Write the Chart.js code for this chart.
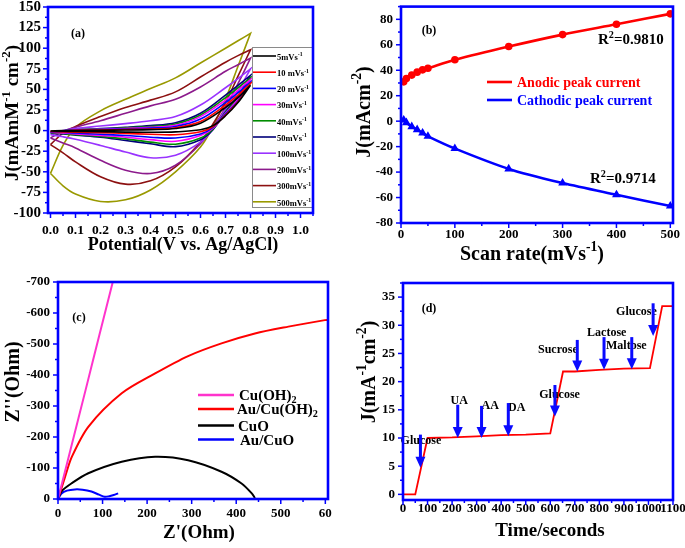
<!DOCTYPE html>
<html>
<head>
<meta charset="utf-8">
<script src="https://cdn.jsdelivr.net/npm/chart.js@4.4.1/dist/chart.umd.min.js"></script>
<style>
  html, body { margin: 0; padding: 0; background: #fff; }
  body { width: 685px; height: 548px; position: relative; overflow: hidden; }
  canvas { position: absolute; }
</style>
</head>
<body>
<canvas id="chartA" width="340" height="270" style="left:0;top:0"></canvas>
<canvas id="chartB" width="345" height="270" style="left:340px;top:0"></canvas>
<canvas id="chartC" width="340" height="278" style="left:0;top:270px"></canvas>
<canvas id="chartD" width="380" height="278" style="left:340px;top:270px"></canvas>
<script>
// ---------- (a) cyclic voltammograms at different scan rates ----------
const scanRateLabels = ['5mVs^{-1}', '10 mVs^{-1}', '20 mVs^{-1}', '30mVs^{-1}', '40mVs^{-1}',
  '50mVs^{-1}', '100mVs^{-1}', '200mVs^{-1}', '300mVs^{-1}', '500mVs^{-1}'];
const cvColors = ['#000000', '#ff0000', '#0000ff', '#ff00ff', '#008c00',
  '#00007a', '#9933ff', '#8c1a8c', '#8c1010', '#999900'];
const fwdPotential = [0, 0.05, 0.1, 0.2, 0.3, 0.4, 0.5, 0.6, 0.7, 0.75, 0.8];
const revPotential = [0.8, 0.75, 0.7, 0.65, 0.6, 0.5, 0.4, 0.3, 0.2, 0.1, 0.05, 0];
const cvAnodic = [
  [-0.5, 0, 0.2, 0.4, 0.7, 1.2, 2.5, 9, 28, 40, 55],
  [-1, -0.3, 0.3, 0.8, 1.3, 2, 3.5, 11, 31, 43, 57],
  [-1.5, -0.3, 0.5, 1.2, 2, 3, 5, 14, 34, 46, 59],
  [-2, -0.5, 0.7, 1.6, 2.6, 4, 6.5, 17, 37, 49, 62],
  [-2.5, -0.5, 0.9, 2, 3.3, 5, 8, 19, 40, 52, 64],
  [-3, -0.5, 1, 2.5, 4, 6, 9.5, 21, 43, 55, 67],
  [-5, 0, 2.5, 5.5, 8.5, 12, 17, 31, 52, 63, 75],
  [-9, -1, 4, 12, 21, 30, 38, 53, 72, 80, 88],
  [-17, -3, 5, 17, 28, 37, 47, 65, 83, 91, 98],
  [-52, -18, 4, 24, 38, 51, 64, 82, 100, 109, 118]
];
const cvCathodic = [
  [55, 34, 18, 6, 1, -1.5, -2, -1.8, -1.3, -1, -0.8, -0.5],
  [57, 35, 19, 5, -1.5, -5, -4.5, -3.5, -2.5, -2, -1.5, -1],
  [59, 36, 20, 4, -4, -9, -8, -6, -4.5, -3, -2, -1.5],
  [62, 38, 21, 3, -6, -13, -11, -8, -6, -4, -3, -2],
  [64, 40, 22, 2, -9, -16.5, -14, -10, -7, -5, -3.5, -2.5],
  [67, 42, 23, 1, -11, -19.5, -16, -12, -8, -5.5, -4, -3],
  [75, 48, 26, 2, -14, -30, -33, -26, -18, -10.5, -7.5, -5],
  [88, 57, 28, 4, -16, -42, -52, -48, -36, -21, -15, -9],
  [98, 66, 34, 8, -14, -44, -61, -65, -56, -38, -27, -17],
  [118, 78, 38, 5, -20, -50, -72, -84, -86, -77, -67, -52]
];
const cvPotentialTicks = [0, 0.1, 0.2, 0.3, 0.4, 0.5, 0.6, 0.7, 0.8, 0.9, 1.0];
const cvCurrentTicks = [-100, -75, -50, -25, 0, 25, 50, 75, 100, 125, 150];

// ---------- (b) peak current vs scan rate ----------
const scanRates = [5, 10, 20, 30, 40, 50, 100, 200, 300, 400, 500];
const anodicPeak = [30.9, 33.5, 36.2, 38.5, 40.3, 41.6, 48.2, 58.6, 68, 76.1, 84.3];
const cathodicPeak = [0.9, -1.2, -4.3, -6.7, -9.3, -11.9, -21.5, -37.5, -48.6, -57.8, -66.7];
const scanRateTicks = [0, 100, 200, 300, 400, 500];
const peakTicks = [-80, -60, -40, -20, 0, 20, 40, 60, 80];

// ---------- (c) Nyquist plots ----------
const cuOH2Re = [0, 30, 62, 93, 124];
const cuOH2Im = [0, -170, -352, -530, -706];
const auCuOH2Re = [0, 16, 31, 68, 143, 218, 292, 367, 442, 517, 599, 606];
const auCuOH2Im = [0, -72, -136, -233, -341, -405, -461, -502, -534, -556, -577, -578];
const cuoRe = [0, 8, 31, 68, 143, 218, 292, 367, 412, 435, 442];
const cuoIm = [0, -25, -51, -83, -120, -136, -125, -88, -50, -18, -3];
const auCuoRe = [0, 8, 20, 38, 55, 75, 92, 105, 115, 125, 135];
const auCuoIm = [0, -18, -27, -31, -30, -24, -14, -7, -9, -13, -18];
const zRealTicks = [0, 100, 200, 300, 400, 500, 600];
const zRealTickLabels = ['0', '100', '200', '300', '400', '500', '60'];
const zImagTicks = [-700, -600, -500, -400, -300, -200, -100, 0];

// ---------- (d) amperometric response ----------
const timeSec = [0, 50, 100, 200, 300, 400, 500, 600, 652, 700, 800, 900, 1006, 1056, 1100];
const currentJ = [0, 0, 10, 10.1, 10.3, 10.5, 10.6, 10.8, 21.8, 21.8, 22.1, 22.3, 22.4, 33.4, 33.4];
const analytes = ['Glucose', 'UA', 'AA', 'DA', 'Glucose', 'Sucrose', 'Lactose', 'Maltose', 'Glucose'];
const addTime = [71, 223, 320, 429, 619, 710, 819, 932, 1019];
const arrowFrom = [10.6, 15.9, 15.7, 16.2, 19.4, 27.4, 27.9, 27.9, 33.9];
const arrowTo = [4.7, 10.0, 10.0, 10.3, 13.8, 21.8, 22.1, 22.2, 28.1];
const labelTime = [73, 229, 355, 463, 638, 631, 830, 910, 951];
const labelJ = [9.6, 16.8, 15.9, 15.6, 17.9, 25.8, 28.8, 26.6, 32.6];
const timeTicks = [0, 100, 200, 300, 400, 500, 600, 700, 800, 900, 1000, 1100];
const jTicks = [0, 5, 10, 15, 20, 25, 30, 35];

const SERIF = '"Liberation Serif", "DejaVu Serif", serif';
const FRAME_BLUE = '#0000ff';

// text with ^{sup} and _{sub} markup
function parseRich(str) {
  const parts = [];
  const re = /([\^_])\{([^}]*)\}/g;
  let last = 0, m;
  while ((m = re.exec(str))) {
    if (m.index > last) parts.push([str.slice(last, m.index), '']);
    parts.push([m[2], m[1]]);
    last = re.lastIndex;
  }
  if (last < str.length) parts.push([str.slice(last), '']);
  return parts;
}

function drawRich(ctx, t) {
  const size = t.size;
  const weight = t.weight || 'bold';
  const parts = parseRich(t.text);
  const fontOf = p => `${weight} ${p[1] ? size * 0.68 : size}px ${SERIF}`;
  ctx.save();
  ctx.translate(t.x, t.y);
  if (t.rotate) ctx.rotate(t.rotate);
  ctx.fillStyle = t.color || '#000';
  ctx.textBaseline = 'alphabetic';
  let w = 0;
  parts.forEach(p => { ctx.font = fontOf(p); w += ctx.measureText(p[0]).width; });
  let x = t.align === 'left' ? 0 : -w / 2;
  const base = size * 0.34;
  parts.forEach(p => {
    ctx.font = fontOf(p);
    const dy = p[1] === '^' ? -size * 0.42 : p[1] === '_' ? size * 0.22 : 0;
    ctx.fillText(p[0], x, base + dy);
    x += ctx.measureText(p[0]).width;
  });
  ctx.restore();
}

function drawAxisTicks(ctx, scale, minorStep, area) {
  const majors = scale.ticks.map(t => t.value);
  const lo = Math.min(scale.min, scale.max), hi = Math.max(scale.min, scale.max);
  const start = Math.ceil(lo / minorStep - 1e-9) * minorStep;
  for (let v = start; v <= hi + 1e-9; v += minorStep) {
    const isMajor = majors.some(mj => Math.abs(mj - v) < minorStep * 0.01);
    const len = isMajor ? 5 : 3;
    const p = scale.getPixelForValue(v);
    ctx.beginPath();
    if (scale.isHorizontal()) { ctx.moveTo(p, area.bottom); ctx.lineTo(p, area.bottom + len); }
    else { ctx.moveTo(area.left, p); ctx.lineTo(area.left - len, p); }
    ctx.stroke();
  }
}

// frame, outward ticks, texts and extra drawing for one panel
function decor(spec) {
  return {
    id: 'decor',
    afterDatasetsDraw(chart) {
      const ctx = chart.ctx, a = chart.chartArea;
      if (spec.extra) spec.extra(chart, ctx);
      ctx.save();
      ctx.strokeStyle = FRAME_BLUE;
      ctx.lineWidth = 1.5;
      drawAxisTicks(ctx, chart.scales.x, spec.xMinor, a);
      drawAxisTicks(ctx, chart.scales.y, spec.yMinor, a);
      ctx.lineWidth = 2.6;
      ctx.strokeRect(a.left, a.top, a.right - a.left, a.bottom - a.top);
      ctx.restore();
      spec.texts.forEach(t => drawRich(ctx, t));
    }
  };
}

function axis(o) {
  return {
    type: 'linear', min: o.min, max: o.max, reverse: !!o.reverse,
    grid: { display: false, drawTicks: false }, border: { display: false },
    afterBuildTicks: s => { s.ticks = o.ticks.map(v => ({ value: v })); },
    ticks: {
      autoSkip: false, maxRotation: 0, minRotation: 0,
      padding: o.pad, color: '#000', font: { family: SERIF, weight: 'bold', size: o.font || 13 },
      callback: o.fmt || (v => String(v))
    },
    afterFit: s => {
      if (s.isHorizontal()) s.height = o.size; else s.width = o.size;
      // the layout padding alone decides where the plot frame sits
      s.paddingTop = s.paddingBottom = s.paddingLeft = s.paddingRight = 0;
    }
  };
}

function pts(xs, ys) { return xs.map((x, i) => ({ x: x, y: ys[i] })); }

function baseOptions(pad, scales) {
  return {
    responsive: false, animation: false, events: [],
    layout: { padding: pad },
    plugins: { legend: { display: false }, tooltip: { enabled: false } },
    scales: scales
  };
}

// ----- chart (a)
const cvDatasets = cvAnodic.map((up, i) => ({
  data: pts(fwdPotential.concat(revPotential), up.concat(cvCathodic[i])),
  borderColor: cvColors[i], borderWidth: 1.6, pointRadius: 0, tension: 0.35, fill: false
}));
new Chart(document.getElementById('chartA'), {
  type: 'line',
  data: { datasets: cvDatasets },
  options: baseOptions({ top: 7, right: 27, left: 0, bottom: 0 }, {
    x: axis({ min: -0.01, max: 1.05, ticks: cvPotentialTicks, pad: 9, size: 57, font: 13.5, fmt: v => v.toFixed(1) }),
    y: axis({ min: -100, max: 150, ticks: cvCurrentTicks, pad: 7, size: 48, font: 15 })
  }),
  plugins: [decor({
    xMinor: 0.05, yMinor: 12.5,
    texts: [
      { text: '(a)', x: 78, y: 33, size: 12 },
      { text: 'J(mAmM^{-1} cm^{-2})', x: 12, y: 113, size: 19, rotate: -Math.PI / 2 },
      { text: 'Potential(V vs. Ag/AgCl)', x: 183, y: 244, size: 18 }
    ],
    extra(chart, ctx) {
      ctx.save();
      ctx.fillStyle = '#fff';
      ctx.strokeStyle = '#8a8a8a';
      ctx.lineWidth = 1;
      ctx.fillRect(252, 47, 60, 160);
      ctx.strokeRect(252.5, 47.5, 60, 160);
      scanRateLabels.forEach((lab, i) => {
        const y = 56 + i * 16.2;
        ctx.strokeStyle = cvColors[i];
        ctx.lineWidth = 1.6;
        ctx.beginPath(); ctx.moveTo(253, y); ctx.lineTo(276, y); ctx.stroke();
        drawRich(ctx, { text: lab, x: 277, y: y + 1, size: 8.5, align: 'left' });
      });
      ctx.restore();
    }
  })]
});

// ----- chart (b)
new Chart(document.getElementById('chartB'), {
  type: 'line',
  data: { datasets: [
    { data: pts(scanRates, anodicPeak), borderColor: '#ff0000', backgroundColor: '#ff0000',
      borderWidth: 2.6, pointRadius: 2.5, pointStyle: 'circle', tension: 0.3 },
    { data: pts(scanRates, cathodicPeak), borderColor: '#0000ff', backgroundColor: '#0000ff',
      borderWidth: 2.6, pointRadius: 2.5, pointStyle: 'triangle', tension: 0.3 }
  ] },
  options: baseOptions({ top: 5, right: 12, left: 0, bottom: 0 }, {
    x: axis({ min: 0, max: 505, ticks: scanRateTicks, pad: 4, size: 47 }),
    y: axis({ min: -80, max: 90, ticks: peakTicks, pad: 8, size: 61 })
  }),
  plugins: [decor({
    xMinor: 50, yMinor: 10,
    texts: [
      { text: '(b)', x: 89, y: 30, size: 12 },
      { text: 'R^{2}=0.9810', x: 258, y: 39, size: 15, align: 'left' },
      { text: 'R^{2}=0.9714', x: 250, y: 178, size: 15, align: 'left' },
      { text: 'Anodic peak current', x: 177, y: 82, size: 14, color: '#ff0000', align: 'left' },
      { text: 'Cathodic peak current', x: 177, y: 100, size: 14, color: '#0000ff', align: 'left' },
      { text: 'J(mAcm^{-2})', x: 23, y: 112, size: 20, rotate: -Math.PI / 2 },
      { text: 'Scan rate(mVs^{-1})', x: 192, y: 253, size: 20 }
    ],
    extra(chart, ctx) {
      ctx.save();
      ctx.lineWidth = 2.6;
      [['#ff0000', 82], ['#0000ff', 100]].forEach(([c, y]) => {
        ctx.strokeStyle = c;
        ctx.beginPath(); ctx.moveTo(147, y); ctx.lineTo(172, y); ctx.stroke();
      });
      ctx.restore();
    }
  })]
});

// ----- chart (c)
const nyquistColors = ['#ff33cc', '#ff0000', '#000000', '#0000ff'];
const nyquistLabels = ['Cu(OH)_{2}', 'Au/Cu(OH)_{2}', 'CuO', 'Au/CuO'];
new Chart(document.getElementById('chartC'), {
  type: 'line',
  data: { datasets: [
    { data: pts(cuOH2Re, cuOH2Im), borderColor: nyquistColors[0], borderWidth: 2, pointRadius: 0, tension: 0.3 },
    { data: pts(auCuOH2Re, auCuOH2Im), borderColor: nyquistColors[1], borderWidth: 2, pointRadius: 0, tension: 0.3 },
    { data: pts(cuoRe, cuoIm), borderColor: nyquistColors[2], borderWidth: 2, pointRadius: 0, tension: 0.3 },
    { data: pts(auCuoRe, auCuoIm), borderColor: nyquistColors[3], borderWidth: 2, pointRadius: 0, tension: 0.3 }
  ] },
  options: baseOptions({ top: 12, right: 12, left: 0, bottom: 0 }, {
    x: axis({ min: 0, max: 606, ticks: zRealTicks, pad: 7, size: 49, fmt: (v, i) => zRealTickLabels[i] }),
    y: axis({ min: -700, max: 0, ticks: zImagTicks, pad: 8, size: 58, reverse: true })
  }),
  plugins: [decor({
    xMinor: 50, yMinor: 50,
    texts: [
      { text: '(c)', x: 79, y: 47, size: 12 },
      { text: "Z''(Ohm)", x: 12, y: 112, size: 20, rotate: -Math.PI / 2 },
      { text: "Z'(Ohm)", x: 199, y: 262, size: 19 }
    ],
    extra(chart, ctx) {
      const rows = [125, 139, 155.5, 169.5];
      const textX = [239, 237, 238, 240];
      ctx.save();
      ctx.lineWidth = 2.4;
      nyquistLabels.forEach((lab, i) => {
        ctx.strokeStyle = nyquistColors[i];
        ctx.beginPath(); ctx.moveTo(198, rows[i]); ctx.lineTo(234, rows[i]); ctx.stroke();
        drawRich(ctx, { text: lab, x: textX[i], y: rows[i], size: 15, align: 'left' });
      });
      ctx.restore();
    }
  })]
});

// ----- chart (d)
new Chart(document.getElementById('chartD'), {
  type: 'line',
  data: { datasets: [
    { data: pts(timeSec, currentJ), borderColor: '#ff0000', borderWidth: 1.8, pointRadius: 0, tension: 0 }
  ] },
  options: baseOptions({ top: 13, right: 47, left: 0, bottom: 0 }, {
    x: axis({ min: 0, max: 1100, ticks: timeTicks, pad: 1, size: 48 }),
    y: axis({ min: -1, max: 37.5, ticks: jTicks, pad: 8, size: 63 })
  }),
  plugins: [decor({
    xMinor: 50, yMinor: 2.5,
    texts: [
      { text: '(d)', x: 89, y: 38, size: 12 },
      { text: 'J(mA^{-1}cm^{-2})', x: 28, y: 102, size: 20, rotate: -Math.PI / 2 },
      { text: 'Time/seconds', x: 210, y: 260, size: 19 }
    ],
    extra(chart, ctx) {
      const xs = chart.scales.x, ys = chart.scales.y;
      analytes.forEach((name, i) => {
        drawRich(ctx, { text: name, x: xs.getPixelForValue(labelTime[i]), y: ys.getPixelForValue(labelJ[i]), size: 12 });
      });
      ctx.save();
      ctx.strokeStyle = '#0a0aff';
      ctx.fillStyle = '#0a0aff';
      ctx.lineWidth = 3;
      addTime.forEach((t, i) => {
        const px = xs.getPixelForValue(t);
        const y0 = ys.getPixelForValue(arrowFrom[i]);
        const y1 = ys.getPixelForValue(arrowTo[i]);
        ctx.beginPath(); ctx.moveTo(px, y0); ctx.lineTo(px, y1 - 9); ctx.stroke();
        ctx.beginPath();
        ctx.moveTo(px - 5, y1 - 11); ctx.lineTo(px + 5, y1 - 11); ctx.lineTo(px, y1);
        ctx.closePath(); ctx.fill();
      });
      ctx.restore();
    }
  })]
});
</script>
</body>
</html>
